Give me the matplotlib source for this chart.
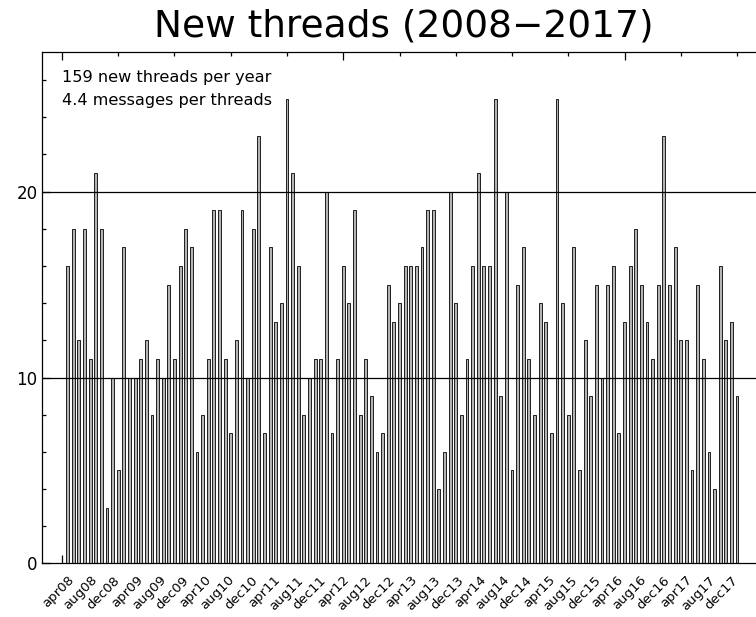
import matplotlib
matplotlib.use("Agg")
import matplotlib.pyplot as plt
from matplotlib.ticker import MultipleLocator
import matplotlib.transforms as mtransforms

# nouveaux threads par mois (avr 2008 -> ...)
counts = [16, 18, 12, 18, 11, 21, 18, 3, 10, 5, 17, 10,
          10, 11, 12, 8, 11, 10, 15, 11, 16, 18, 17, 6,
          8, 11, 19, 19, 11, 7, 12, 19, 10, 18, 23, 7,
          17, 13, 14, 25, 21, 16, 8, 10, 11, 11, 20, 7,
          11, 16, 14, 19, 8, 11, 9, 6, 7, 15, 13, 14,
          16, 16, 16, 17, 19, 19, 4, 6, 20, 14, 8, 11,
          16, 21, 16, 16, 25, 9, 20, 5, 15, 17, 11, 8,
          14, 13, 7, 25, 14, 8, 17, 5, 12, 9, 15, 10,
          15, 16, 7, 13, 16, 18, 15, 13, 11, 15, 23, 15,
          17, 12, 12, 5, 15, 11, 6, 4, 16, 12, 13, 9]

month_names = ["apr", "aug", "dec"]
years = list(range(2008, 2018))
tick_labels = [f"{m}{y % 100:02d}" for y in years for m in month_names]

threads_per_year = 159
msgs_per_thread = 4.4

fig = plt.figure(figsize=(7.56, 6.17), dpi=100)
ax = fig.add_axes([0.0552, 0.0869, 0.9465, 0.8284])

x = list(range(1, len(counts) + 1))
ax.bar(x, counts, width=0.5, color="#b4b4b4", edgecolor="black", linewidth=0.6, zorder=2)

ax.set_xlim(-3.6, len(counts) + 3.6)
ax.set_ylim(0, max(counts) * 1.1)

# lignes horizontales aux graduations principales
for yv in (10, 20):
    ax.axhline(yv, color="black", linewidth=0.9, zorder=3)

for s in ax.spines.values():
    s.set_linewidth(0.9)
ax.spines["right"].set_visible(False)

ax.xaxis.set_major_locator(MultipleLocator(50))
ax.xaxis.set_minor_locator(MultipleLocator(10))
ax.yaxis.set_major_locator(MultipleLocator(10))
ax.yaxis.set_minor_locator(MultipleLocator(2))
ax.tick_params(which="both", direction="in", top=True, bottom=True, left=True, right=False,
               labelbottom=False, width=0.9)
ax.tick_params(which="major", length=6)
ax.tick_params(which="minor", length=3.2)
ax.tick_params(axis="y", labelsize=12, pad=3)

# étiquettes des mois, tournées à 45°
trans = mtransforms.blended_transform_factory(ax.transData, ax.transAxes)
for k, lab in enumerate(tick_labels):
    ax.text(1 + 4.07 * k, -0.02, lab, transform=trans, rotation=45, ha="right", va="top",
            rotation_mode="anchor", fontsize=9.5)

ax.text(0.029, 0.942, f"{threads_per_year} new threads per year", transform=ax.transAxes,
        fontsize=11.6, va="baseline")
ax.text(0.029, 0.896, f"{msgs_per_thread} messages per threads", transform=ax.transAxes,
        fontsize=11.6, va="baseline")

fig.text(0.534, 0.9405, "New threads (2008\u22122017)", ha="center", va="baseline", fontsize=27)

fig.savefig("out.png", dpi=100)
